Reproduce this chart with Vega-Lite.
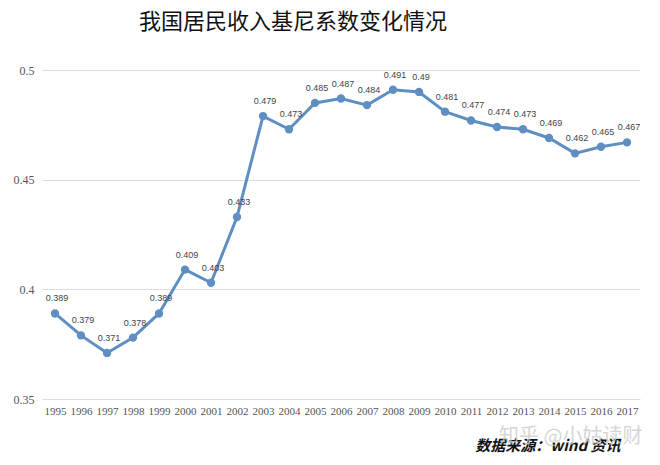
{
  "$schema": "https://vega.github.io/schema/vega-lite/v6.json",
  "autosize": "none",
  "width": 598,
  "height": 329,
  "padding": {"left": 42, "top": 70, "right": 20, "bottom": 66},
  "background": "white",
  "title": {
    "text": "我国居民收入基尼系数变化情况",
    "anchor": "start",
    "dx": 126,
    "offset": 30,
    "font": "Noto Sans CJK SC",
    "fontSize": 22,
    "fontWeight": "normal",
    "color": "#111111"
  },
  "config": {
    "view": {"stroke": null}
  },
  "data": {
    "values": [
      {"year": "1995", "gini": 0.389},
      {"year": "1996", "gini": 0.379},
      {"year": "1997", "gini": 0.371},
      {"year": "1998", "gini": 0.378},
      {"year": "1999", "gini": 0.389},
      {"year": "2000", "gini": 0.409},
      {"year": "2001", "gini": 0.403},
      {"year": "2002", "gini": 0.433},
      {"year": "2003", "gini": 0.479},
      {"year": "2004", "gini": 0.473},
      {"year": "2005", "gini": 0.485},
      {"year": "2006", "gini": 0.487},
      {"year": "2007", "gini": 0.484},
      {"year": "2008", "gini": 0.491},
      {"year": "2009", "gini": 0.49},
      {"year": "2010", "gini": 0.481},
      {"year": "2011", "gini": 0.477},
      {"year": "2012", "gini": 0.474},
      {"year": "2013", "gini": 0.473},
      {"year": "2014", "gini": 0.469},
      {"year": "2015", "gini": 0.462},
      {"year": "2016", "gini": 0.465},
      {"year": "2017", "gini": 0.467}
    ]
  },
  "encoding": {
    "x": {
      "field": "year",
      "type": "ordinal",
      "scale": {"type": "point", "padding": 0.5},
      "axis": {
        "title": "数据来源：wind 资讯",
        "titleX": 578,
        "titleAlign": "right",
        "titleFont": "Noto Sans CJK SC",
        "titleFontSize": 15,
        "titleFontStyle": "italic",
        "titleFontWeight": "bold",
        "titleColor": "#111111",
        "titlePadding": 22,
        "labelAngle": 0,
        "labelFont": "Liberation Serif",
        "labelFontSize": 11,
        "labelColor": "#555555",
        "labelPadding": 6,
        "domain": false,
        "ticks": false,
        "grid": false
      }
    },
    "y": {
      "field": "gini",
      "type": "quantitative",
      "scale": {"domain": [0.35, 0.5], "nice": false, "zero": false},
      "axis": {
        "title": null,
        "values": [0.35, 0.4, 0.45, 0.5],
        "format": "~g",
        "labelFont": "Liberation Serif",
        "labelFontSize": 12,
        "labelColor": "#555555",
        "labelPadding": 8,
        "domain": false,
        "ticks": false,
        "grid": true,
        "gridColor": "#dddddd",
        "gridWidth": 1
      }
    }
  },
  "layer": [
    {
      "mark": {"type": "line", "color": "#5F8FC2", "strokeWidth": 3},
      "encoding": {}
    },
    {
      "mark": {"type": "point", "filled": true, "color": "#5F8FC2", "opacity": 1, "size": 70},
      "encoding": {}
    },
    {
      "mark": {"type": "text", "dx": 2, "dy": -15, "font": "Liberation Sans", "fontSize": 9, "color": "#444444"},
      "encoding": {"text": {"field": "gini", "type": "quantitative"}}
    },
    {
      "data": {"values": [{"year": "2012", "gini": 0.3327, "note": "知乎 @小姑读财"}]},
      "mark": {"type": "text", "align": "left", "dx": 2, "font": "Noto Sans CJK SC", "fontSize": 20, "color": "#cccccc", "opacity": 0.8},
      "encoding": {"text": {"field": "note"}}
    }
  ]
}
